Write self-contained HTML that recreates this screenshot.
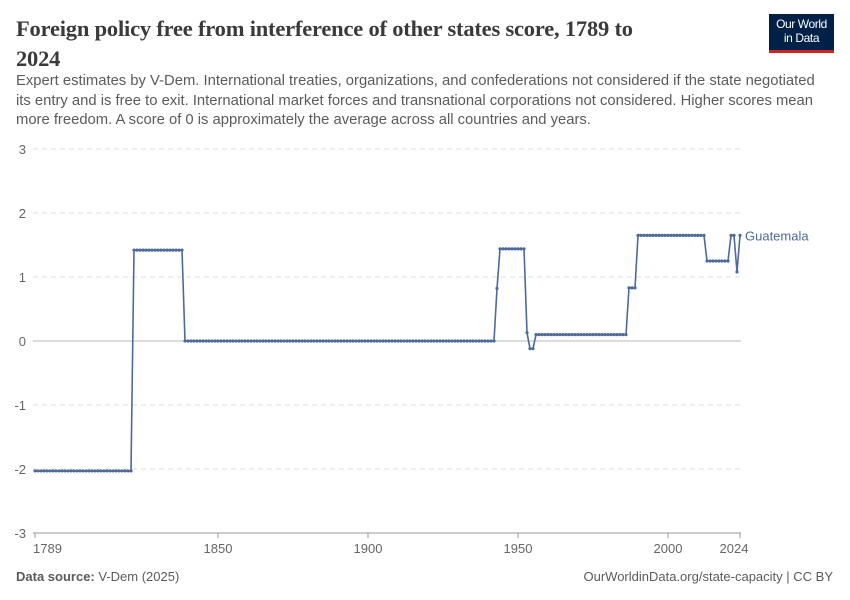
<!DOCTYPE html>
<html><head><meta charset="utf-8"><style>
body{margin:0;background:#fff;font-family:"Liberation Sans",sans-serif;}
#wrap{position:relative;width:850px;height:600px;overflow:hidden;}
h1{position:absolute;left:16px;top:14px;margin:0;width:660px;font-family:"Liberation Serif",serif;font-weight:bold;font-size:22.5px;line-height:30px;color:#3a3a3a;letter-spacing:-0.2px;}
#sub{position:absolute;left:16px;top:72px;width:812px;font-size:14.8px;line-height:19.5px;color:#5b5b5b;}
#logo{position:absolute;left:769px;top:14px;width:65px;height:39px;background:#002147;color:#fff;font-size:12px;line-height:14px;text-align:center;padding-top:3px;box-sizing:border-box;border-bottom:3px solid #ce261e;letter-spacing:-0.4px;}
.foot{position:absolute;top:569px;font-size:13px;color:#5b5b5b;}
</style></head><body>
<div id="wrap">
<h1>Foreign policy free from interference of other states score, 1789 to 2024</h1>
<div id="sub">Expert estimates by V-Dem. International treaties, organizations, and confederations not considered if the state negotiated its entry and is free to exit. International market forces and transnational corporations not considered. Higher scores mean more freedom. A score of 0 is approximately the average across all countries and years.</div>
<div id="logo">Our World<br>in Data</div>
<svg id="chart" width="850" height="600" style="position:absolute;left:0;top:0"></svg>
<div class="foot" style="left:16px"><b>Data source:</b> V-Dem (2025)</div>
<div class="foot" style="right:17px">OurWorldinData.org/state-capacity | CC BY</div>
</div>
<script>
const yTicks=[-3,-2,-1,0,1,2,3];
const xTicks=[1789,1850,1900,1950,2000,2024];
const segStart=[1789,1822,1839,1943,1944,1953,1954,1956,1987,1990,2013,2021,2023,2024];
const segEnd=[1821,1838,1942,1943,1952,1953,1955,1986,1989,2012,2020,2022,2023,2024];
const segValue=[-2.03,1.42,0,0.82,1.44,0.13,-0.12,0.1,0.83,1.65,1.25,1.65,1.08,1.65];
const seriesName="Guatemala";
const ns="http://www.w3.org/2000/svg";
const svg=document.getElementById('chart');
const X=y=>35+(y-1789)*3;
const Y=v=>341-v*64;
function mk(t,a){const e=document.createElementNS(ns,t);for(const k in a)e.setAttribute(k,a[k]);svg.appendChild(e);return e;}
yTicks.forEach(v=>{
  const l=mk('line',{x1:33,x2:741,y1:Y(v),y2:Y(v),stroke:v===0?'#b8b8b8':'#dddddd','stroke-dasharray':v===0?'':'5,4'});
  
  
  const t=mk('text',{x:26,y:Y(v)+5,'text-anchor':'end','font-size':13,fill:'#666','font-family':'Liberation Sans'});
  t.textContent=v;
  
  
});
const ax=mk('line',{x1:33,x2:741,y1:533,y2:533,stroke:'#999'});


xTicks.forEach((yr,i)=>{
  const tk=mk('line',{x1:X(yr),x2:X(yr),y1:533,y2:538,stroke:'#999'});
  
  
  const t=mk('text',{x:i===0?33:X(yr)-(i===5?6:0),y:553,'text-anchor':i===0?'start':'middle','font-size':13,fill:'#666','font-family':'Liberation Sans'});
  t.textContent=yr;
  
  
});
const pts=[];
segStart.forEach((s,i)=>{for(let y=s;y<=segEnd[i];y++)pts.push([y,segValue[i]]);});
const path=mk('polyline',{points:pts.map(p=>X(p[0])+','+Y(p[1])).join(' '),fill:'none',stroke:'#4c6a9c','stroke-width':1.6});


pts.forEach(p=>{
  const c=mk('circle',{cx:X(p[0]),cy:Y(p[1]),r:1.6,fill:'#4c6a9c'});
  
  
});
const last=pts[pts.length-1];
const lb=mk('text',{x:X(last[0])+5,y:Y(last[1])+5,'font-size':13,fill:'#4c6a9c','font-family':'Liberation Sans'});
lb.textContent=seriesName;


</script>
</body></html>
